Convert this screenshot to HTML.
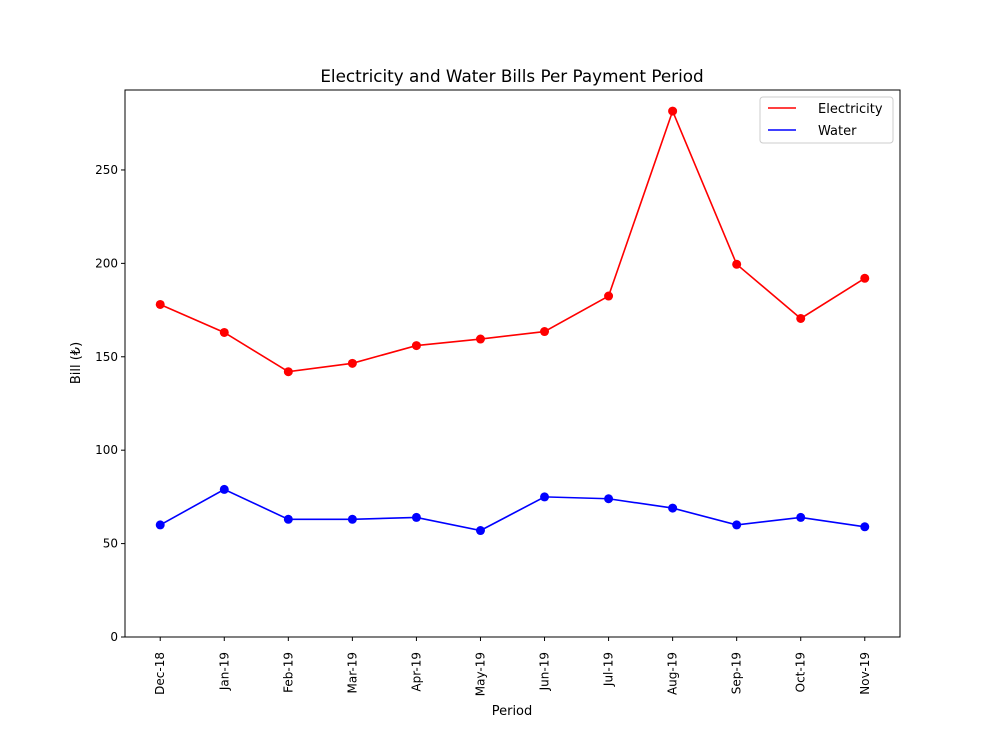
<!DOCTYPE html>
<html><head><meta charset="utf-8"><style>
body{margin:0;background:#fff;font-family:"Liberation Sans","DejaVu Sans",sans-serif;}
svg text{font-family:"DejaVu Sans","Liberation Sans",sans-serif;}
</style></head><body>
<svg id="chart" width="1000" height="750" xmlns="http://www.w3.org/2000/svg"></svg>
<script>
const categories=["Dec-18","Jan-19","Feb-19","Mar-19","Apr-19","May-19","Jun-19","Jul-19","Aug-19","Sep-19","Oct-19","Nov-19"];
const electricity=[178,163,142,146.5,156,159.5,163.5,182.5,281.5,199.5,170.5,192];
const water=[60,79,63,63,64,57,75,74,69,60,64,59];
const yTicks=[0,50,100,150,200,250];

const L=125,R=900,T=90,B=637,yMax=292.8;
const xs=i=>L+(i+0.55)/12.1*(R-L);
const ys=v=>B-v/yMax*(B-T);
const svg=document.getElementById('chart');
const NS="http://www.w3.org/2000/svg";
function mk(tag,attrs,parent){const e=document.createElementNS(NS,tag);for(const k in attrs)e.setAttribute(k,attrs[k]);(parent||svg).appendChild(e);return e;}

const title=mk('text',{x:512,y:82,'text-anchor':'middle','font-size':16.8});
title.textContent="Electricity and Water Bills Per Payment Period";



yTicks.forEach(v=>{
  const y=ys(v);
  const tk=mk('line',{x1:L-4,x2:L,y1:y,y2:y,stroke:'#000','stroke-width':1});
  
  
  const t=mk('text',{x:L-7,y:y+4,'text-anchor':'end','font-size':12});
  t.textContent=v;
  
  
});
categories.forEach((c,i)=>{
  const x=xs(i);
  const tk=mk('line',{x1:x,x2:x,y1:B,y2:B+4,stroke:'#000','stroke-width':1});
  
  
  const t=mk('text',{x:x+4,y:B+15,'text-anchor':'end','font-size':12,transform:`rotate(-90 ${x+4} ${B+15})`});
  t.textContent=c;
  
  
});

function series(vals,color,name){
  const g=mk('g',{});
  
  
  const p=mk('polyline',{points:vals.map((v,i)=>xs(i)+','+ys(v)).join(' '),fill:'none',stroke:color,'stroke-width':1.6},g);
  
  
  vals.forEach((v,i)=>{
    const c=mk('circle',{cx:xs(i),cy:ys(v),r:4.5,fill:color},g);
    
    
  });
}
series(electricity,'#ff0000','electricity');
series(water,'#0000ff','water');

const frame=mk('rect',{x:L,y:T,width:R-L,height:B-T,fill:'none',stroke:'#000','stroke-width':1});



const xl=mk('text',{x:512,y:715,'text-anchor':'middle','font-size':13});
xl.textContent="Period";


const yl=mk('text',{x:80,y:363,'text-anchor':'middle','font-size':13,transform:'rotate(-90 80 363)'});
yl.textContent="Bill (₺)";



const lg=mk('g',{});


mk('rect',{x:760,y:97,width:133,height:46,rx:3,fill:'#fff',stroke:'#ccc'},lg);
[['Electricity','#ff0000',108],['Water','#0000ff',130]].forEach(([n,c,y])=>{
  const e=mk('g',{},lg);
  
  
  mk('line',{x1:768,x2:796,y1:y,y2:y,stroke:c,'stroke-width':1.6},e);
  const t=mk('text',{x:818,y:y+5,'font-size':13},e);
  t.textContent=n;
});
</script>
</body></html>
